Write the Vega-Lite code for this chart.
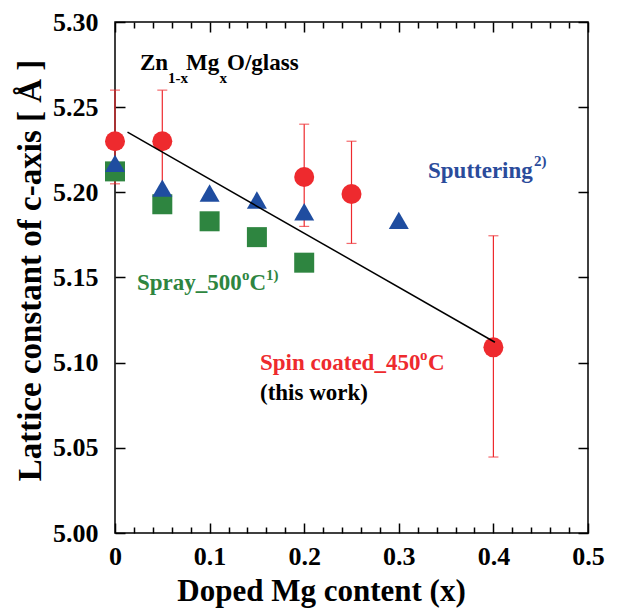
{
  "$schema": "https://vega.github.io/schema/vega-lite/v6.json",
  "width": 473,
  "height": 511,
  "autosize": {"type": "none"},
  "padding": {"left": 115, "top": 22, "right": 30, "bottom": 80},
  "config": {
    "view": {"stroke": "black", "strokeWidth": 1.5},
    "axis": {
      "grid": false,
      "zindex": 1,
      "domain": false,
      "ticks": true,
      "tickColor": "black",
      "tickWidth": 1.5,
      "tickOpacity": 1,
      "labelFont": "Liberation Serif",
      "labelFontWeight": "bold",
      "labelFontSize": 26,
      "labelColor": "black",
      "titleFont": "Liberation Serif",
      "titleFontWeight": "bold",
      "titleFontSize": 31,
      "titleColor": "black"
    },
    "text": {"font": "Liberation Serif", "fontWeight": "bold", "align": "left", "baseline": "alphabetic"}
  },
  "datasets": {
    "points": [
      {"method": "Spin coated", "x": 0, "y": 5.23, "lo": 5.205, "hi": 5.26},
      {"method": "Spin coated", "x": 0.05, "y": 5.23, "lo": 5.2, "hi": 5.26},
      {"method": "Spin coated", "x": 0.2, "y": 5.209, "lo": 5.18, "hi": 5.24},
      {"method": "Spin coated", "x": 0.25, "y": 5.199, "lo": 5.17, "hi": 5.23},
      {"method": "Spin coated", "x": 0.4, "y": 5.109, "lo": 5.0446, "hi": 5.1745},
      {"method": "Sputtering", "x": 0, "y": 5.217},
      {"method": "Sputtering", "x": 0.05, "y": 5.2025},
      {"method": "Sputtering", "x": 0.1, "y": 5.1996},
      {"method": "Sputtering", "x": 0.15, "y": 5.1955},
      {"method": "Sputtering", "x": 0.2, "y": 5.1886},
      {"method": "Sputtering", "x": 0.3, "y": 5.1835},
      {"method": "Spray", "x": 0, "y": 5.2123},
      {"method": "Spray", "x": 0.05, "y": 5.193},
      {"method": "Spray", "x": 0.1, "y": 5.183},
      {"method": "Spray", "x": 0.15, "y": 5.1737},
      {"method": "Spray", "x": 0.2, "y": 5.1587}
    ],
    "fit": [
      {"x": 0.0132, "y": 5.2353},
      {"x": 0.4016, "y": 5.112}
    ],
    "labels": [
      {"g": "header", "role": "main", "x": 0.02643, "y": 5.2718, "t": "Zn"},
      {"g": "header", "role": "small", "x": 0.05603, "y": 5.2642, "t": "1-x"},
      {"g": "header", "role": "main", "x": 0.0751, "y": 5.2718, "t": "Mg"},
      {"g": "header", "role": "small", "x": 0.1105, "y": 5.2642, "t": "x"},
      {"g": "header", "role": "main", "x": 0.1184, "y": 5.2718, "t": "O/glass"},
      {"g": "Sputtering", "role": "main", "x": 0.33087, "y": 5.2084, "t": "Sputtering"},
      {"g": "Sputtering", "role": "small", "x": 0.44292, "y": 5.2154, "t": "2)"},
      {"g": "Spray", "role": "main", "x": 0.02326, "y": 5.1426, "t": "Spray_500"},
      {"g": "Spray", "role": "small", "x": 0.13425, "y": 5.1485, "t": "o"},
      {"g": "Spray", "role": "main", "x": 0.14218, "y": 5.1426, "t": "C"},
      {"g": "Spray", "role": "small", "x": 0.15962, "y": 5.1485, "t": "1)"},
      {"g": "Spin coated", "role": "main", "x": 0.15328, "y": 5.0957, "t": "Spin coated_450"},
      {"g": "Spin coated", "role": "small", "x": 0.32241, "y": 5.1015, "t": "o"},
      {"g": "Spin coated", "role": "main", "x": 0.33087, "y": 5.0957, "t": "C"},
      {"g": "note", "role": "main", "x": 0.15328, "y": 5.078, "t": "(this work)"}
    ]
  },
  "resolve": {"axis": {"x": "independent", "y": "independent"}},
  "layer": [
    {
      "data": {"name": "points"},
      "transform": [{"filter": "datum.method === 'Spin coated'"}],
      "mark": {"type": "rule", "color": "#ee2a2e", "strokeWidth": 1.2},
      "encoding": {
        "x": {"field": "x", "type": "quantitative", "scale": {"domain": [0, 0.5]}, "axis": null},
        "y": {"field": "lo", "type": "quantitative", "scale": {"domain": [5.0, 5.3]}, "axis": null},
        "y2": {"field": "hi"}
      }
    },
    {
      "data": {"name": "points"},
      "transform": [{"filter": "datum.method === 'Spin coated'"}],
      "mark": {"type": "tick", "orient": "horizontal", "color": "#ee2a2e", "size": 10, "thickness": 1.2},
      "encoding": {
        "x": {"field": "x", "type": "quantitative", "scale": {"domain": [0, 0.5]}, "axis": null},
        "y": {"field": "lo", "type": "quantitative", "scale": {"domain": [5.0, 5.3]}, "axis": null}
      }
    },
    {
      "data": {"name": "points"},
      "transform": [{"filter": "datum.method === 'Spin coated'"}],
      "mark": {"type": "tick", "orient": "horizontal", "color": "#ee2a2e", "size": 10, "thickness": 1.2},
      "encoding": {
        "x": {"field": "x", "type": "quantitative", "scale": {"domain": [0, 0.5]}, "axis": null},
        "y": {"field": "hi", "type": "quantitative", "scale": {"domain": [5.0, 5.3]}, "axis": null}
      }
    },
    {
      "data": {"name": "points"},
      "transform": [{"filter": "datum.method === 'Spray'"}],
      "mark": {"type": "point", "shape": "square", "filled": true, "size": 400, "color": "#2e8540", "opacity": 1},
      "encoding": {
        "x": {
          "field": "x", "type": "quantitative", "scale": {"domain": [0, 0.5]},
          "title": "Doped Mg content (x)",
          "axis": {
            "orient": "bottom",
            "values": [0, 0.1, 0.2, 0.3, 0.4, 0.5],
            "format": ".1~f",
            "labelOverlap": false,
            "labelFlush": false,
            "offset": -10,
            "tickSize": 10,
            "labelPadding": 10,
            "titlePadding": 7,
            "titleX": 206
          }
        },
        "y": {
          "field": "y", "type": "quantitative", "scale": {"domain": [5.0, 5.3]},
          "title": "Lattice constant of c-axis [ Å ]",
          "axis": {
            "orient": "left",
            "values": [5.0, 5.05, 5.1, 5.15, 5.2, 5.25, 5.3],
            "format": ".2f",
            "labelOverlap": false,
            "labelFlush": false,
            "offset": -10,
            "tickSize": 10,
            "labelPadding": 17,
            "titleFontSize": 33,
            "titlePadding": 5,
            "titleY": 248
          }
        }
      }
    },
    {
      "data": {"name": "points"},
      "transform": [{"filter": "datum.method === 'Sputtering'"}],
      "mark": {"type": "point", "shape": "triangle-up", "filled": true, "size": 400, "color": "#1f4da0", "opacity": 1},
      "encoding": {
        "x": {
          "field": "x", "type": "quantitative", "scale": {"domain": [0, 0.5]},
          "title": null,
          "axis": {
            "orient": "top",
            "values": [0, 0.1, 0.2, 0.3, 0.4, 0.5],
            "labels": false,
            "offset": -10,
            "tickSize": 10
          }
        },
        "y": {
          "field": "y", "type": "quantitative", "scale": {"domain": [5.0, 5.3]},
          "title": null,
          "axis": {
            "orient": "right",
            "values": [5.0, 5.05, 5.1, 5.15, 5.2, 5.25, 5.3],
            "labels": false,
            "offset": -10,
            "tickSize": 10
          }
        }
      }
    },
    {
      "data": {"name": "points"},
      "transform": [{"filter": "datum.method === 'Spin coated'"}],
      "mark": {"type": "point", "shape": "circle", "filled": true, "size": 400, "color": "#ee2a2e", "opacity": 1},
      "encoding": {
        "x": {
          "field": "x", "type": "quantitative", "scale": {"domain": [0, 0.5]},
          "title": null,
          "axis": {
            "orient": "bottom",
            "values": [0.02, 0.04, 0.06, 0.08, 0.12, 0.14, 0.16, 0.18, 0.22, 0.24, 0.26, 0.28, 0.32, 0.34, 0.36, 0.38, 0.42, 0.44, 0.46, 0.48],
            "labels": false,
            "offset": -6,
            "tickSize": 6
          }
        },
        "y": {"field": "y", "type": "quantitative", "scale": {"domain": [5.0, 5.3]}, "axis": null}
      }
    },
    {
      "data": {"name": "fit"},
      "mark": {"type": "line", "color": "black", "strokeWidth": 1.5},
      "encoding": {
        "x": {
          "field": "x", "type": "quantitative", "scale": {"domain": [0, 0.5]},
          "title": null,
          "axis": {
            "orient": "top",
            "values": [0.02, 0.04, 0.06, 0.08, 0.12, 0.14, 0.16, 0.18, 0.22, 0.24, 0.26, 0.28, 0.32, 0.34, 0.36, 0.38, 0.42, 0.44, 0.46, 0.48],
            "labels": false,
            "offset": -6,
            "tickSize": 6
          }
        },
        "y": {"field": "y", "type": "quantitative", "scale": {"domain": [5.0, 5.3]}, "axis": null}
      }
    },
    {
      "data": {"name": "labels"},
      "transform": [{"filter": "datum.role === 'main'"}],
      "mark": {"type": "text", "fontSize": 23},
      "encoding": {
        "x": {"field": "x", "type": "quantitative", "scale": {"domain": [0, 0.5]}, "axis": null},
        "y": {"field": "y", "type": "quantitative", "scale": {"domain": [5.0, 5.3]}, "axis": null},
        "text": {"field": "t"},
        "color": {"field": "g", "type": "nominal", "scale": {"domain": ["header", "Sputtering", "Spray", "Spin coated", "note"], "range": ["#000000", "#2a4b9b", "#2e8540", "#ee2a2e", "#000000"]}, "legend": null}
      }
    },
    {
      "data": {"name": "labels"},
      "transform": [{"filter": "datum.role === 'small'"}],
      "mark": {"type": "text", "fontSize": 15},
      "encoding": {
        "x": {"field": "x", "type": "quantitative", "scale": {"domain": [0, 0.5]}, "axis": null},
        "y": {"field": "y", "type": "quantitative", "scale": {"domain": [5.0, 5.3]}, "axis": null},
        "text": {"field": "t"},
        "color": {"field": "g", "type": "nominal", "scale": {"domain": ["header", "Sputtering", "Spray", "Spin coated", "note"], "range": ["#000000", "#2a4b9b", "#2e8540", "#ee2a2e", "#000000"]}, "legend": null}
      }
    }
  ]
}
